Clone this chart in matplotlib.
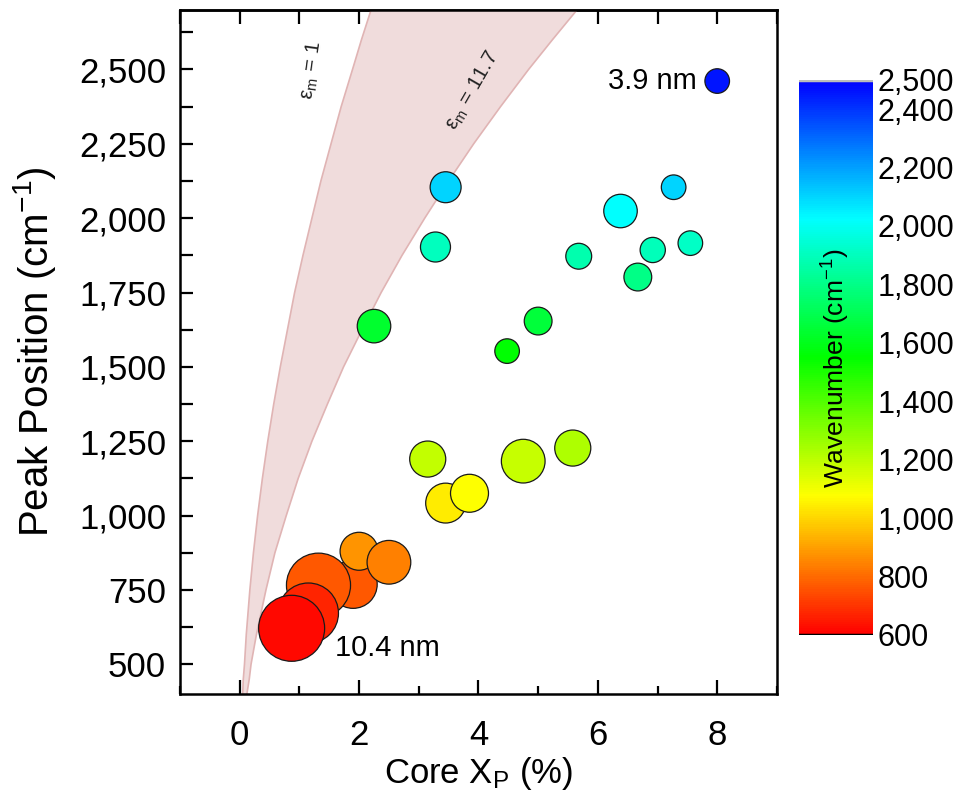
import matplotlib
matplotlib.use('Agg')
import matplotlib.pyplot as plt
import numpy as np
from matplotlib.colors import LinearSegmentedColormap, Normalize
from matplotlib.ticker import FuncFormatter, MultipleLocator

plt.rcParams['font.family'] = ['Liberation Sans', 'DejaVu Sans']
plt.rcParams['mathtext.fontset'] = 'custom'
plt.rcParams['mathtext.rm'] = 'Liberation Sans'
plt.rcParams['mathtext.it'] = 'Liberation Sans:italic'

# points, in drawing order (later ones on top)
core_xp = [8.0, 3.45, 7.27, 6.38, 3.28, 5.68, 6.92, 7.55, 6.67, 2.25, 5.0, 4.48,
           3.15, 4.75, 5.58, 3.45, 3.85, 1.9, 2.0, 2.5, 1.32, 1.15, 0.87]
peak_pos = [2461, 2104, 2104, 2024, 1903, 1872, 1893, 1916, 1802, 1637, 1654, 1553,
            1190, 1183, 1227, 1042, 1075, 769, 880, 843, 766, 672, 621]
size_nm = [3.9, 4.9, 3.9, 5.3, 4.75, 4.1, 4.0, 3.9, 4.4, 5.3, 4.4, 3.9,
           5.7, 6.9, 5.7, 6.3, 6.0, 7.6, 6.0, 6.9, 10.1, 9.5, 10.4]

# boundaries of the shaded band
band_y = [400, 450, 500, 600, 750, 875, 1000, 1125, 1250, 1375, 1500, 1625, 1750,
          1875, 2000, 2125, 2250, 2375, 2500, 2600, 2700]
band_x_eps1 = [0.05, 0.06, 0.08, 0.11, 0.17, 0.23, 0.30, 0.38, 0.47, 0.57, 0.68,
               0.80, 0.92, 1.06, 1.21, 1.36, 1.53, 1.70, 1.89, 2.04, 2.20]
band_x_eps117 = [0.12, 0.16, 0.19, 0.28, 0.44, 0.59, 0.78, 0.98, 1.21, 1.47, 1.74,
                 2.05, 2.37, 2.72, 3.10, 3.50, 3.92, 4.37, 4.84, 5.24, 5.65]

cbar_ticks = [600, 800, 1000, 1200, 1400, 1600, 1800, 2000, 2200, 2400, 2500]

cmap = LinearSegmentedColormap.from_list(
    'rainbow_origin', ['#ff0000', '#ffff00', '#00ff00', '#00ffff', '#0000ff'])
norm = Normalize(vmin=600, vmax=2500)

fig = plt.figure(figsize=(9.55, 7.97), dpi=100)
ax = fig.add_axes([0.1885, 0.1292, 0.625, 0.8583])

ax.fill_betweenx(band_y, band_x_eps1, band_x_eps117, facecolor='#f0dcdc',
                 edgecolor='none', zorder=1)
ax.plot(band_x_eps1, band_y, color='#e0b4b4', lw=1.2, zorder=1.5)
ax.plot(band_x_eps117, band_y, color='#e0b4b4', lw=1.2, zorder=1.5)

r_px = 12.3 + (np.array(size_nm) - 3.9) / 0.314
sizes = (2 * r_px * 0.72) ** 2
ax.scatter(core_xp, peak_pos, s=sizes, c=peak_pos, cmap=cmap, norm=norm,
           edgecolors='#1a1a1a', linewidths=0.9, zorder=3)

ax.text(1.2, 2495, 'ε$_\\mathrm{m}$ = 1', rotation=82, fontsize=15,
        ha='center', va='center', color='#222222')
ax.text(3.9, 2430, 'ε$_\\mathrm{m}$ = 11.7', rotation=60, fontsize=15,
        ha='center', va='center', color='#222222')

ax.text(7.65, 2461, '3.9 nm', fontsize=21, ha='right', va='center')
ax.text(1.6, 554, '10.4 nm', fontsize=21, ha='left', va='center')

ax.set_xlim(-1, 9)
ax.set_ylim(400, 2700)
ax.xaxis.set_major_locator(MultipleLocator(2))
ax.xaxis.set_minor_locator(MultipleLocator(1))
ax.yaxis.set_major_locator(MultipleLocator(250))
ax.yaxis.set_minor_locator(MultipleLocator(125))
ax.yaxis.set_major_formatter(FuncFormatter(lambda v, p: f'{int(v):,}'))

ax.tick_params(which='both', direction='in', width=1.6, labelsize=25)
ax.tick_params(axis='y', which='major', length=9, pad=10)
ax.tick_params(axis='y', which='minor', length=9)
ax.tick_params(axis='x', which='major', length=10, pad=18)
ax.tick_params(axis='x', which='minor', length=6)

# top ticks: every unit, all the same length
top = ax.secondary_xaxis('top')
top.set_xticks(range(-1, 10))
top.tick_params(direction='in', length=10, width=1.6, labeltop=False)
top.spines['top'].set_linewidth(1.8)

for sp in ax.spines.values():
    sp.set_linewidth(1.8)

ax.set_xlabel('Core X$_\\mathrm{P}$ (%)', fontsize=25, labelpad=2)
ax.set_ylabel('Peak Position (cm$^{-1}$)', fontsize=29)
ax.yaxis.set_label_coords(-0.205, 0.5)

cax = fig.add_axes([0.8366, 0.2033, 0.0775, 0.6964])
sm = plt.cm.ScalarMappable(cmap=cmap, norm=norm)
cb = fig.colorbar(sm, cax=cax, ticks=cbar_ticks)
cb.outline.set_visible(False)
cb.ax.yaxis.set_major_formatter(FuncFormatter(lambda v, p: f'{int(v):,}'))
cb.ax.tick_params(length=0, labelsize=22, pad=3)
cax.axhline(600, color='black', lw=2.5)
cax.axhline(2500, color='#bbbbbb', lw=2.5)
cax.text(0.5, 0.48, 'Wavenumber (cm$^{-1}$)', rotation=90, transform=cax.transAxes,
         ha='center', va='center', fontsize=19)

fig.savefig('out.png', dpi=100, facecolor='white')
